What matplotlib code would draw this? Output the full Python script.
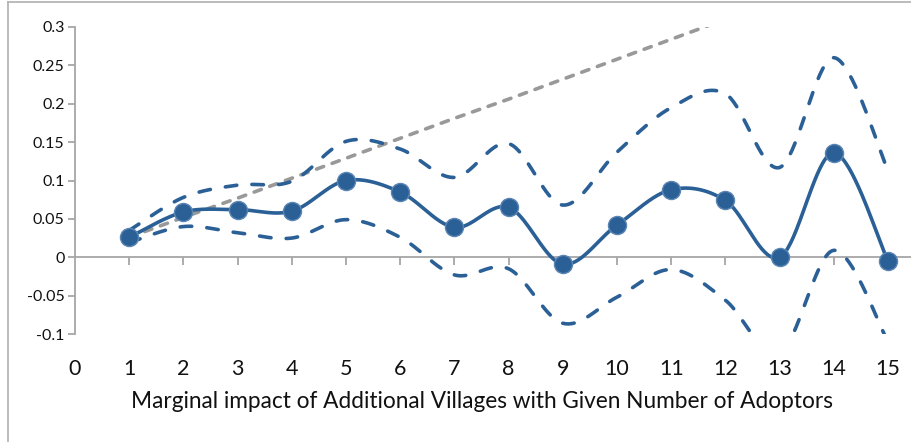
import numpy as np
import matplotlib
matplotlib.use("Agg")
import matplotlib.pyplot as plt
from matplotlib.lines import Line2D

# Number of adopting villages and estimated marginal impact with bounds
x_vals = [1, 2, 3, 4, 5, 6, 7, 8, 9, 10, 11, 12, 13, 14, 15]
impact = [0.026, 0.059, 0.062, 0.060, 0.100, 0.085, 0.039, 0.065,
          -0.009, 0.042, 0.088, 0.074, 0.000, 0.136, -0.005]
upper = [0.035, 0.078, 0.094, 0.099, 0.151, 0.141, 0.104, 0.148,
         0.068, 0.137, 0.195, 0.213, 0.117, 0.260, 0.113]
lower = [0.019, 0.040, 0.032, 0.025, 0.049, 0.026, -0.023, -0.015,
         -0.086, -0.052, -0.016, -0.056, -0.125, 0.009, -0.110]
linear_ref = [0.026, 0.052, 0.077, 0.103, 0.129, 0.155, 0.181, 0.206,
              0.232, 0.258, 0.284, 0.310, 0.335, 0.361, 0.387]

x_ticks = list(range(0, 16))
y_ticks = [-0.1, -0.05, 0, 0.05, 0.1, 0.15, 0.2, 0.25, 0.3]
y_tick_labels = ["-0.1", "-0.05", "0", "0.05", "0.1", "0.15", "0.2", "0.25", "0.3"]
x_title = "Marginal impact of Additional Villages with Given Number of Adoptors"

BLUE = "#2b6097"
GRAY = "#999999"
AXIS = "#a6a6a6"
TEXT = "#111111"


def smooth(xs, ys, n=40):
    """Bezier smoothing through every point (spreadsheet-style smoothed line)."""
    p = np.column_stack([xs, ys]).astype(float)
    out = []
    for i in range(len(p) - 1):
        p0 = p[i - 1] if i > 0 else p[i]
        p1, p2 = p[i], p[i + 1]
        p3 = p[i + 2] if i + 2 < len(p) else p[i + 1]
        c1 = p1 + (p2 - p0) / 6.0
        c2 = p2 - (p3 - p1) / 6.0
        t = np.linspace(0, 1, n)[:, None]
        seg = ((1 - t) ** 3) * p1 + 3 * ((1 - t) ** 2) * t * c1 \
            + 3 * (1 - t) * t ** 2 * c2 + t ** 3 * p2
        out.append(seg if i == 0 else seg[1:])
    s = np.vstack(out)
    return s[:, 0], s[:, 1]


plt.rcParams["font.family"] = ["Lato", "DejaVu Sans"]

W, H = 912, 442
fig = plt.figure(figsize=(W / 100, H / 100), dpi=100)
left, right = 75 / W, 1.0
bottom, top = 1 - 334 / H, 1 - 27 / H
ax = fig.add_axes([left, bottom, right - left, top - bottom])

ax.set_xlim(0, (W - 75) / 54.2)
ax.set_ylim(-0.1, 0.3)

LW = 2.6

# Reference line
ax.plot(x_vals, linear_ref, color=GRAY, lw=LW, dashes=(2.1, 2.5),
        dash_capstyle="round", zorder=2)

# Confidence bounds
for series in (upper, lower):
    sx, sy = smooth(x_vals, series)
    ax.plot(sx, sy, color=BLUE, lw=LW, dashes=(3.2, 4.2),
            dash_capstyle="round", zorder=3)

# Estimated impact
sx, sy = smooth(x_vals, impact)
ax.plot(sx, sy, color=BLUE, lw=LW, zorder=4)
ax.plot(x_vals, impact, "o", color=BLUE, ms=13, mec="#5b86b3", mew=1.0,
        zorder=5, clip_on=False)

# Axes styling
for side in ("top", "right"):
    ax.spines[side].set_visible(False)
ax.spines["left"].set_color(AXIS)
ax.spines["left"].set_linewidth(1.3)
ax.spines["bottom"].set_position(("data", 0))
ax.spines["bottom"].set_color(AXIS)
ax.spines["bottom"].set_linewidth(1.3)

ax.set_yticks(y_ticks)
ax.set_yticklabels(y_tick_labels)
ax.tick_params(axis="y", direction="out", length=5, width=1.3, color=AXIS,
               labelsize=11.5, pad=2.5, labelcolor=TEXT)

ax.set_xticks(x_ticks[1:])
ax.tick_params(axis="x", direction="out", length=6, width=1.3, color=AXIS,
               labelbottom=False)

# Category labels sit below the plot area
sec = ax.secondary_xaxis("bottom")
sec.spines["bottom"].set_visible(False)
sec.set_xticks(x_ticks)
sec.set_xticklabels([str(v) for v in x_ticks])
sec.tick_params(axis="x", length=0, labelsize=15.5, pad=18, labelcolor=TEXT)
sec.set_xlabel(x_title, fontsize=16.3, labelpad=9, color=TEXT)
sec.xaxis.label.set_x(0.486)

# Chart frame
fig.add_artist(Line2D([8 / W, 1], [1 - 2 / H, 1 - 2 / H], color="#b5b5b5", lw=1.3))
fig.add_artist(Line2D([8 / W, 8 / W], [0, 1 - 2 / H], color="#b5b5b5", lw=1.3))

fig.savefig("out.png", dpi=100)
